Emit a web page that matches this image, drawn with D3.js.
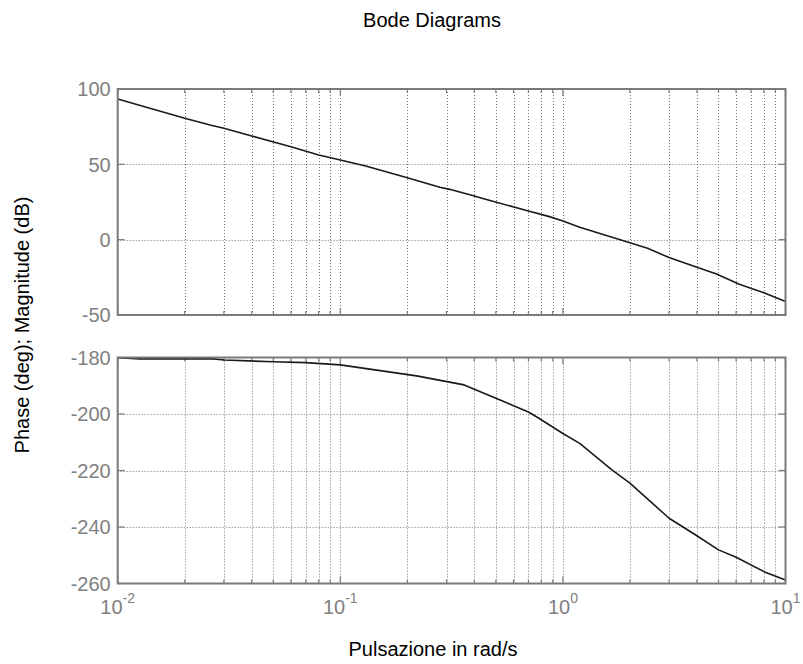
<!DOCTYPE html>
<html>
<head>
<meta charset="utf-8">
<script src="https://cdn.jsdelivr.net/npm/d3@7"></script>
<style>
  html, body { margin: 0; padding: 0; background: #fff; }
  svg { display: block; }
  text { font-family: "Liberation Sans", Arial, Helvetica, sans-serif; }
</style>
</head>
<body>
<svg id="chart" width="803" height="664"></svg>
<script>
// Magnitude response samples (rad/s, dB)
const magFreq = [0.01, 0.02, 0.026, 0.03, 0.04, 0.06, 0.08, 0.1, 0.13, 0.2, 0.28, 0.31,
                 0.40, 0.445, 0.70, 0.87, 1.0, 1.19, 2.0, 2.4, 3.0, 4.0, 4.9, 6.2, 8.0, 10];
const magDb   = [93.4, 80.6, 76.1, 73.9, 68.8, 61.7, 56.2, 52.9, 48.9, 41.1, 34.8, 33.4,
                 29.0, 27.0, 19.0, 15.3, 12.4, 8.2, -2.0, -5.7, -11.9, -18.3, -22.8, -29.6, -35.2, -41.1];

// Phase response samples (rad/s, deg)
const phaseFreq = [0.01, 0.0126, 0.027, 0.03, 0.05, 0.07, 0.1, 0.22, 0.36, 0.5, 0.7, 0.78,
                   1.0, 1.19, 1.66, 2.0, 3.0, 4.0, 5.0, 6.0, 8.0, 10];
const phaseDeg  = [-180.1, -180.5, -180.5, -180.9, -181.5, -181.8, -182.6, -186.5, -189.7, -194.4, -199.3, -201.5,
                   -206.9, -210.4, -219.8, -224.5, -236.9, -243.1, -248.1, -250.7, -255.8, -258.8];

// Axis ticks and labels
const magTicks = [100, 50, 0, -50];
const phaseTicks = [-180, -200, -220, -240, -260];
const freqDecades = [0.01, 0.1, 1, 10];
const decadeExponents = ["-2", "-1", "0", "1"];

const titleText = "Bode Diagrams";
const xLabelText = "Pulsazione in rad/s";
const yLabelText = "Phase (deg); Magnitude (dB)";

const svg = d3.select("#chart");

const left = 117.7, right = 785.5;
const magBox = { top: 89, bottom: 315 };
const phaseBox = { top: 357.5, bottom: 583.5 };

const frameColor = "#7a7a7a";
const gridColor = "#767676";
const labelColor = "#808080";

const x = d3.scaleLog().domain([0.01, 10]).range([left, right]);
const minorFreqs = x.ticks(); // 1..9 multiples of each decade

function drawPanel(box, yDomain, yTicks, freq, vals, showXLabels) {
  const y = d3.scaleLinear().domain(yDomain).range([box.bottom, box.top]);
  const g = svg.append("g");

  // dotted grid
  const grid = g.append("g")
    .attr("stroke", gridColor)
    .attr("stroke-width", 1)
    .attr("stroke-dasharray", "1,2");
  grid.selectAll("line.v")
    .data(minorFreqs.filter(f => f > 0.01 * 1.0001 && f < 10 * 0.9999))
    .join("line")
    .attr("x1", d => Math.round(x(d)) + 0.5).attr("x2", d => Math.round(x(d)) + 0.5)
    .attr("y1", box.top).attr("y2", box.bottom);
  grid.selectAll("line.h")
    .data(yTicks.filter(t => t !== yDomain[0] && t !== yDomain[1]))
    .join("line")
    .attr("x1", left).attr("x2", right)
    .attr("y1", d => Math.round(y(d)) + 0.5).attr("y2", d => Math.round(y(d)) + 0.5);

  // inward ticks on all four sides
  const ticks = g.append("g").attr("stroke", frameColor).attr("stroke-width", 1.2);
  const isMajor = f => freqDecades.some(dd => Math.abs(f / dd - 1) < 1e-6);
  minorFreqs.forEach(f => {
    const len = isMajor(f) ? 7 : 4;
    const px = x(f);
    ticks.append("line").attr("x1", px).attr("x2", px).attr("y1", box.bottom).attr("y2", box.bottom - len);
    ticks.append("line").attr("x1", px).attr("x2", px).attr("y1", box.top).attr("y2", box.top + len);
  });
  yTicks.forEach(t => {
    const py = y(t);
    ticks.append("line").attr("x1", left).attr("x2", left + 7).attr("y1", py).attr("y2", py);
    ticks.append("line").attr("x1", right).attr("x2", right - 7).attr("y1", py).attr("y2", py);
  });

  // response curve
  const line = d3.line().x(d => x(d[0])).y(d => y(d[1]));
  g.append("path")
    .datum(freq.map((f, i) => [f, vals[i]]))
    .attr("d", line)
    .attr("fill", "none")
    .attr("stroke", "#1a1a1a")
    .attr("stroke-width", 1.6)
    .attr("stroke-linejoin", "round");

  // frame
  g.append("rect")
    .attr("x", left).attr("y", box.top)
    .attr("width", right - left).attr("height", box.bottom - box.top)
    .attr("fill", "none")
    .attr("stroke", frameColor)
    .attr("stroke-width", 2);

  // y tick labels
  g.append("g").selectAll("text")
    .data(yTicks)
    .join("text")
    .attr("x", left - 7)
    .attr("y", d => y(d))
    .attr("dy", "0.36em")
    .attr("text-anchor", "end")
    .attr("font-size", 20)
    .attr("fill", labelColor)
    .text(d => d);

  if (showXLabels) {
    const lbl = g.append("g").selectAll("text")
      .data(freqDecades)
      .join("text")
      .attr("x", d => x(d))
      .attr("y", 614)
      .attr("text-anchor", "middle")
      .attr("font-size", 20)
      .attr("fill", labelColor);
    lbl.append("tspan").text("10");
    lbl.append("tspan")
      .attr("font-size", 14)
      .attr("dy", -11)
      .text((d, i) => decadeExponents[i]);
  }
}

drawPanel(magBox, [-50, 100], magTicks, magFreq, magDb, false);
drawPanel(phaseBox, [-260, -180], phaseTicks, phaseFreq, phaseDeg, true);

// title and axis labels
svg.append("text")
  .attr("x", 432).attr("y", 27)
  .attr("text-anchor", "middle")
  .attr("font-size", 20)
  .attr("fill", "#000")
  .text(titleText);

svg.append("text")
  .attr("x", 433).attr("y", 656)
  .attr("text-anchor", "middle")
  .attr("font-size", 20)
  .attr("fill", "#000")
  .text(xLabelText);

svg.append("text")
  .attr("transform", "translate(29,325) rotate(-90)")
  .attr("text-anchor", "middle")
  .attr("font-size", 20)
  .attr("fill", "#000")
  .text(yLabelText);
</script>
</body>
</html>
